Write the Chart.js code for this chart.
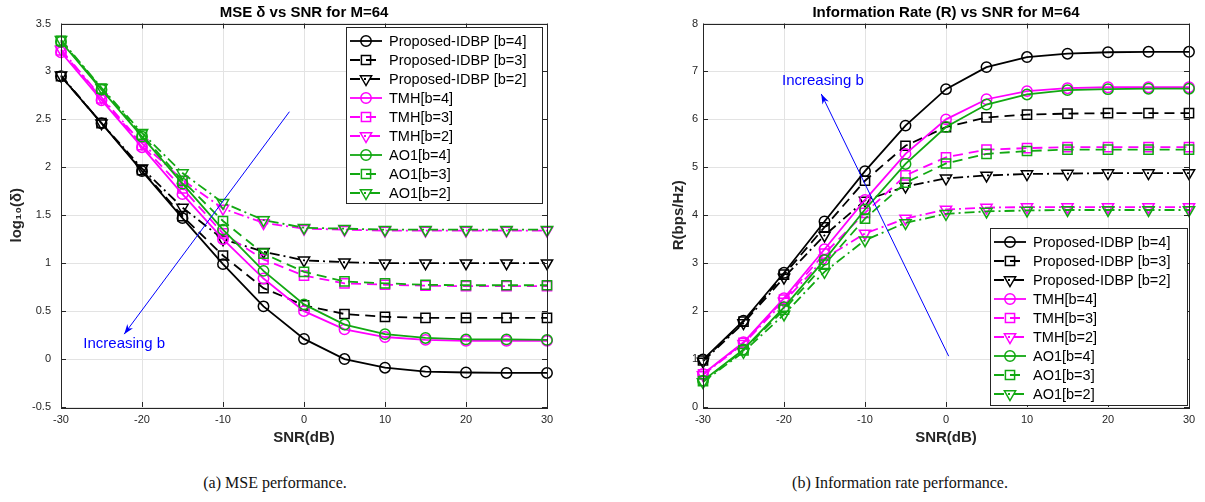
<!DOCTYPE html>
<html>
<head>
<meta charset="utf-8">
<script src="https://cdn.jsdelivr.net/npm/chart.js@4.4.0/dist/chart.umd.min.js"></script>
<style>
  body { margin: 0; background: #fff; width: 1205px; height: 502px; position: relative; overflow: hidden; }
  canvas { position: absolute; top: 0; }
  #mseChart { left: 0; }
  #rateChart { left: 600px; }
  .caption { position: absolute; top: 474px; font-family: 'Liberation Serif', serif; font-size: 16px; color: #111; white-space: nowrap; transform: translateX(-50%); }
</style>
</head>
<body>
<canvas id="mseChart" width="600" height="460"></canvas>
<canvas id="rateChart" width="605" height="460"></canvas>
<div class="caption" style="left:275px">(a) MSE performance.</div>
<div class="caption" style="left:900px">(b) Information rate performance.</div>
<script>
// x axis, same for both plots
const snrDb = [-30, -25, -20, -15, -10, -5, 0, 5, 10, 15, 20, 25, 30];

const seriesNames = [
  'Proposed-IDBP [b=4]', 'Proposed-IDBP [b=3]', 'Proposed-IDBP [b=2]',
  'TMH[b=4]', 'TMH[b=3]', 'TMH[b=2]',
  'AO1[b=4]', 'AO1[b=3]', 'AO1[b=2]'
];

// log10(MSE) values
const mseIdbp4 = [2.95, 2.46, 1.96, 1.47, 0.99, 0.55, 0.21, 0.0, -0.09, -0.13, -0.14, -0.145, -0.145];
const mseIdbp3 = [2.95, 2.46, 1.97, 1.49, 1.08, 0.74, 0.56, 0.47, 0.44, 0.43, 0.43, 0.43, 0.43];
const mseIdbp2 = [2.96, 2.46, 1.99, 1.58, 1.25, 1.12, 1.03, 1.01, 1.0, 1.0, 1.0, 1.0, 1.0];
const mseTmh4 = [3.20, 2.70, 2.21, 1.72, 1.25, 0.84, 0.50, 0.31, 0.23, 0.20, 0.19, 0.19, 0.19];
const mseTmh3 = [3.22, 2.72, 2.23, 1.78, 1.31, 1.04, 0.87, 0.79, 0.775, 0.765, 0.76, 0.76, 0.76];
const mseTmh2 = [3.23, 2.73, 2.25, 1.87, 1.57, 1.42, 1.36, 1.35, 1.34, 1.34, 1.34, 1.34, 1.34];
const mseAo4 = [3.31, 2.81, 2.32, 1.83, 1.35, 0.92, 0.57, 0.36, 0.26, 0.22, 0.205, 0.205, 0.20];
const mseAo3 = [3.32, 2.82, 2.34, 1.86, 1.44, 1.10, 0.91, 0.81, 0.79, 0.775, 0.77, 0.77, 0.77];
const mseAo2 = [3.33, 2.83, 2.36, 1.94, 1.63, 1.45, 1.37, 1.36, 1.35, 1.35, 1.35, 1.35, 1.35];

// information rate (bps/Hz)
const rateIdbp4 = [0.99, 1.80, 2.80, 3.87, 4.92, 5.87, 6.63, 7.09, 7.30, 7.37, 7.40, 7.41, 7.41];
const rateIdbp3 = [0.97, 1.78, 2.76, 3.75, 4.72, 5.45, 5.84, 6.04, 6.10, 6.12, 6.13, 6.13, 6.13];
const rateIdbp2 = [0.95, 1.75, 2.70, 3.58, 4.31, 4.60, 4.77, 4.83, 4.86, 4.87, 4.88, 4.88, 4.88];
const rateTmh4 = [0.69, 1.35, 2.27, 3.29, 4.32, 5.28, 6.00, 6.42, 6.59, 6.65, 6.67, 6.67, 6.67];
const rateTmh3 = [0.68, 1.34, 2.24, 3.20, 4.05, 4.83, 5.21, 5.37, 5.40, 5.42, 5.42, 5.42, 5.42];
const rateTmh2 = [0.67, 1.32, 2.20, 3.10, 3.62, 3.93, 4.12, 4.16, 4.17, 4.17, 4.17, 4.17, 4.17];
const rateAo4 = [0.55, 1.20, 2.08, 3.07, 4.12, 5.07, 5.84, 6.31, 6.52, 6.61, 6.63, 6.64, 6.64];
const rateAo3 = [0.54, 1.18, 2.03, 2.97, 3.93, 4.68, 5.08, 5.28, 5.34, 5.37, 5.37, 5.37, 5.37];
const rateAo2 = [0.52, 1.15, 1.93, 2.82, 3.48, 3.84, 4.03, 4.08, 4.10, 4.11, 4.11, 4.11, 4.11];

// "Increasing b" arrows, in data units: [start, end], text position
const mseArrow = [[-1.8, 2.58], [-22.2, 0.26]];
const mseArrowText = [-22.2, 0.16];
const rateArrow = [[0.33, 1.06], [-15.4, 6.53]];
const rateArrowText = [-15.2, 6.8];

// styles
const GREEN = '#12a812';
const seriesColors = ['#000', '#000', '#000', '#ff00ff', '#ff00ff', '#ff00ff', GREEN, GREEN, GREEN];
const dashes = { 4: [], 3: [10, 6], 2: [10, 4, 2, 4] };
const markers = { 4: 'circle', 3: 'rect', 2: 'triangle' };
const bits = [4, 3, 2, 4, 3, 2, 4, 3, 2];

Chart.defaults.font.family = "'Liberation Sans', Arial, sans-serif";
Chart.defaults.color = '#262626';

function markerSize(style) {
  return style === 'circle' ? 5.2 : 6.5;
}

function drawMarker(ctx, style, x, y) {
  const r = markerSize(style);
  ctx.beginPath();
  if (style === 'circle') {
    ctx.arc(x, y, r, 0, Math.PI * 2);
  } else if (style === 'rect') {
    const s = r * Math.SQRT1_2;
    ctx.rect(x - s, y - s, 2 * s, 2 * s);
  } else {
    ctx.moveTo(x, y + r);
    ctx.lineTo(x - r * 0.866, y - r * 0.5);
    ctx.lineTo(x + r * 0.866, y - r * 0.5);
    ctx.closePath();
  }
  ctx.stroke();
}

function buildDatasets(values) {
  return values.map((vals, i) => {
    const b = bits[i];
    return {
      label: seriesNames[i],
      data: snrDb.map((s, k) => ({ x: s, y: vals[k] })),
      borderColor: seriesColors[i],
      borderWidth: 1.8,
      borderDash: dashes[b],
      pointStyle: markers[b],
      pointRadius: markerSize(markers[b]),
      pointRotation: b === 2 ? 180 : 0,
      pointBorderColor: seriesColors[i],
      pointBackgroundColor: 'rgba(0,0,0,0)',
      pointBorderWidth: 1.5,
      fill: false,
      tension: 0,
      clip: false,
      order: -i
    };
  });
}

// matlab-like frame, title, legend box and arrow annotation
const matlabLook = {
  id: 'matlabLook',
  afterDraw(chart, args, opts) {
    const { ctx, chartArea: a, scales: { x, y } } = chart;
    ctx.save();

    // arrow
    const [p0, p1] = opts.arrow;
    const x0 = x.getPixelForValue(p0[0]), y0 = y.getPixelForValue(p0[1]);
    const x1 = x.getPixelForValue(p1[0]), y1 = y.getPixelForValue(p1[1]);
    ctx.strokeStyle = '#0000ff';
    ctx.fillStyle = '#0000ff';
    ctx.lineWidth = 1;
    ctx.setLineDash([]);
    ctx.beginPath();
    ctx.moveTo(x0, y0);
    ctx.lineTo(x1, y1);
    ctx.stroke();
    const ang = Math.atan2(y1 - y0, x1 - x0);
    ctx.beginPath();
    ctx.moveTo(x1, y1);
    ctx.lineTo(x1 - 10 * Math.cos(ang) + 3.5 * Math.sin(ang), y1 - 10 * Math.sin(ang) - 3.5 * Math.cos(ang));
    ctx.lineTo(x1 - 7 * Math.cos(ang), y1 - 7 * Math.sin(ang));
    ctx.lineTo(x1 - 10 * Math.cos(ang) - 3.5 * Math.sin(ang), y1 - 10 * Math.sin(ang) + 3.5 * Math.cos(ang));
    ctx.closePath();
    ctx.fill();
    ctx.font = "15px 'Liberation Sans', Arial, sans-serif";
    ctx.textAlign = 'center';
    ctx.textBaseline = 'middle';
    ctx.fillText('Increasing b', x.getPixelForValue(opts.arrowText[0]), y.getPixelForValue(opts.arrowText[1]));

    // frame and inward ticks
    ctx.strokeStyle = '#262626';
    ctx.lineWidth = 1;
    ctx.beginPath();
    x.ticks.forEach(t => {
      const px = Math.round(x.getPixelForValue(t.value)) + 0.5;
      ctx.moveTo(px, a.bottom); ctx.lineTo(px, a.bottom - 5);
      ctx.moveTo(px, a.top); ctx.lineTo(px, a.top + 5);
    });
    y.ticks.forEach(t => {
      const py = Math.round(y.getPixelForValue(t.value)) + 0.5;
      ctx.moveTo(a.left, py); ctx.lineTo(a.left + 5, py);
      ctx.moveTo(a.right, py); ctx.lineTo(a.right - 5, py);
    });
    ctx.stroke();
    ctx.strokeRect(Math.round(a.left) + 0.5, Math.round(a.top) + 0.5, Math.round(a.width), Math.round(a.height));

    // title
    ctx.fillStyle = '#000';
    ctx.font = "bold 15px 'Liberation Sans', Arial, sans-serif";
    ctx.fillText(opts.title, (a.left + a.right) / 2, 13);

    // legend
    const lg = opts.legend;
    const lx = a.right - lg.right - lg.width;
    const ly = lg.top != null ? a.top + lg.top : a.bottom - lg.bottom - lg.height;
    ctx.fillStyle = '#fff';
    ctx.fillRect(lx, ly, lg.width, lg.height);
    ctx.strokeStyle = '#262626';
    ctx.strokeRect(Math.round(lx) + 0.5, Math.round(ly) + 0.5, lg.width, lg.height);
    ctx.font = "14.5px 'Liberation Sans', Arial, sans-serif";
    ctx.textAlign = 'left';
    chart.data.datasets.forEach((ds, i) => {
      const ry = ly + 14 + i * 19;
      ctx.strokeStyle = ds.borderColor;
      ctx.lineWidth = 1.8;
      ctx.setLineDash(ds.borderDash);
      ctx.beginPath();
      ctx.moveTo(lx + 4, ry);
      ctx.lineTo(lx + 36, ry);
      ctx.stroke();
      ctx.setLineDash([]);
      ctx.lineWidth = 1.5;
      drawMarker(ctx, ds.pointStyle, lx + 20, ry);
      ctx.fillStyle = '#000';
      ctx.fillText(ds.label, lx + 43, ry + 1);
    });
    ctx.restore();
  }
};

// matlab style tick text: 3 instead of 3.0
const plainTick = v => String(Math.round(v * 100) / 100);

function makeChart(id, values, cfg) {
  return new Chart(document.getElementById(id), {
    type: 'line',
    data: { datasets: buildDatasets(values) },
    options: {
      responsive: false,
      animation: false,
      layout: { padding: { top: 23.5, right: cfg.padRight, bottom: 13, left: 0 } },
      plugins: {
        legend: { display: false },
        tooltip: { enabled: false },
        matlabLook: cfg.look
      },
      scales: {
        x: {
          type: 'linear',
          min: -30,
          max: 30,
          afterFit: s => { s.height = 40; },
          ticks: { stepSize: 10, padding: 6, font: { size: 11 }, color: '#262626', callback: plainTick },
          grid: { color: '#e3e3e3', drawTicks: false },
          border: { display: false },
          title: { display: true, text: 'SNR(dB)', font: { size: 15, weight: 'bold' }, color: '#262626', padding: 0 }
        },
        y: {
          min: cfg.yMin,
          max: cfg.yMax,
          afterFit: s => { s.width = cfg.yWidth; },
          ticks: { stepSize: cfg.yStep, padding: cfg.yPad, font: { size: 11 }, color: '#262626', callback: plainTick },
          grid: { color: '#e3e3e3', drawTicks: false },
          border: { display: false },
          title: { display: true, text: cfg.yTitle, font: { size: 15, weight: 'bold' }, color: '#262626', padding: { top: cfg.yTitlePad, bottom: 0 } }
        }
      }
    },
    plugins: [matlabLook]
  });
}

makeChart('mseChart',
  [mseIdbp4, mseIdbp3, mseIdbp2, mseTmh4, mseTmh3, mseTmh2, mseAo4, mseAo3, mseAo2],
  {
    padRight: 53, yMin: -0.5, yMax: 3.5, yStep: 0.5, yWidth: 61, yPad: 10,
    yTitle: 'log₁₀(δ)', yTitlePad: 8,
    look: {
      title: 'MSE δ vs SNR for M=64',
      legend: { width: 196, height: 176, right: 5, top: 3.5 },
      arrow: mseArrow,
      arrowText: mseArrowText
    }
  });

makeChart('rateChart',
  [rateIdbp4, rateIdbp3, rateIdbp2, rateTmh4, rateTmh3, rateTmh2, rateAo4, rateAo3, rateAo2],
  {
    padRight: 16, yMin: 0, yMax: 8, yStep: 1, yWidth: 103, yPad: 5,
    yTitle: 'R(bps/Hz)', yTitlePad: 70,
    look: {
      title: 'Information Rate (R) vs SNR for M=64',
      legend: { width: 197, height: 177, right: 2, bottom: 2 },
      arrow: rateArrow,
      arrowText: rateArrowText
    }
  });
</script>
</body>
</html>
